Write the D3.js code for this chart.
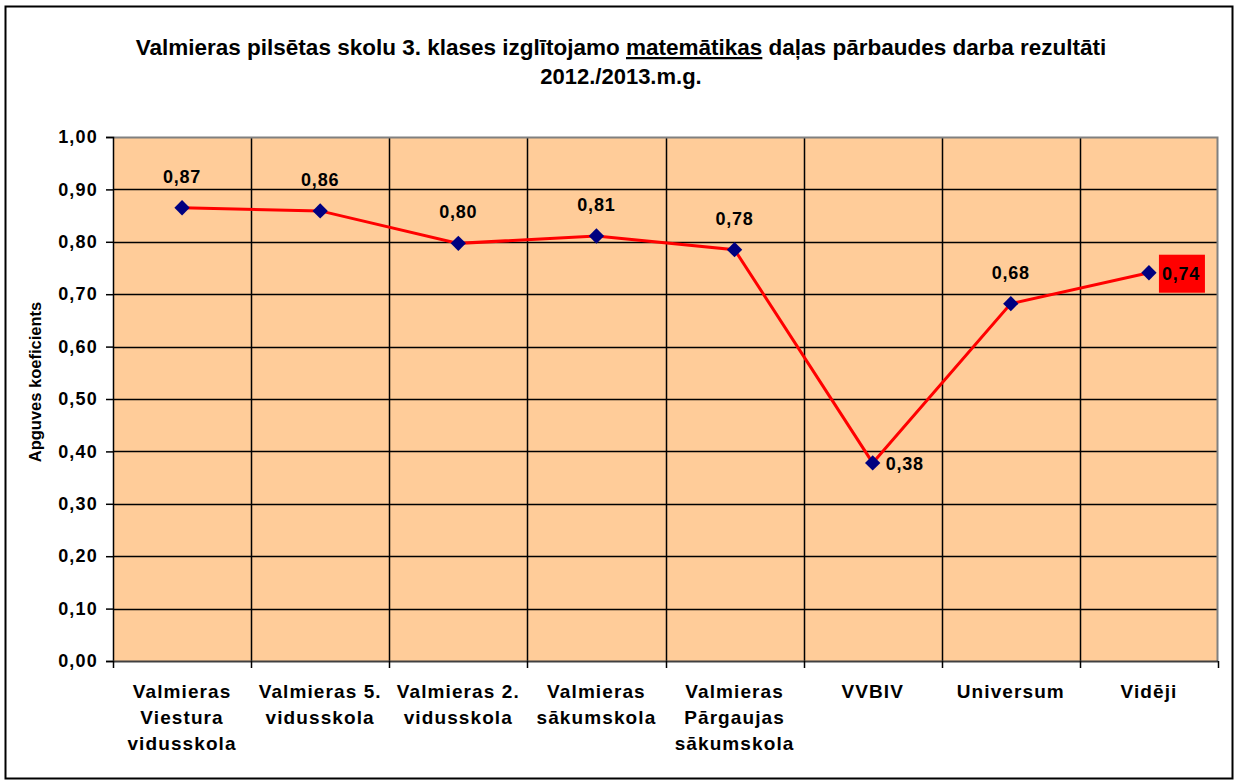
<!DOCTYPE html>
<html>
<head>
<meta charset="utf-8">
<script src="https://cdn.jsdelivr.net/npm/d3@7"></script>
<style>
	body { margin: 0; background: #fff; }
	svg { display: block; font-family: "Liberation Sans", Arial, sans-serif; font-weight: bold; }
</style>
</head>
<body>
<svg id="chart" width="1235" height="781"></svg>
<script>
// data
const schools = [
	["Valmieras", "Viestura", "vidusskola"],
	["Valmieras 5.", "vidusskola"],
	["Valmieras 2.", "vidusskola"],
	["Valmieras", "sākumskola"],
	["Valmieras", "Pārgaujas", "sākumskola"],
	["VVBIV"],
	["Universum"],
	["Vidēji"]
];
const values = [0.865, 0.859, 0.797, 0.811, 0.785, 0.378, 0.682, 0.741];
const valueLabels = ["0,87", "0,86", "0,80", "0,81", "0,78", "0,38", "0,68", "0,74"];
const yTicks = [0, 0.1, 0.2, 0.3, 0.4, 0.5, 0.6, 0.7, 0.8, 0.9, 1.0];

const svg = d3.select("#chart");
const margin = {top: 137, right: 17, bottom: 120, left: 113};
const width = 1235 - margin.left - margin.right;
const plotH = 524;

// outer border
svg.append("rect")
	.attr("x", 5.5).attr("y", 6.5)
	.attr("width", 1227).attr("height", 772)
	.attr("fill", "#fff")
	.attr("stroke", "#000")
	.attr("stroke-width", 2);

// title
const title = svg.append("text")
	.attr("x", 621).attr("y", 55)
	.attr("text-anchor", "middle")
	.style("font-size", "22.5px");
title.append("tspan").text("Valmieras pilsētas skolu 3. klases izglītojamo ");
title.append("tspan").style("text-decoration", "underline").text("matemātikas");
title.append("tspan").text(" daļas pārbaudes darba rezultāti");
svg.append("text")
	.attr("x", 621).attr("y", 84)
	.attr("text-anchor", "middle")
	.style("font-size", "22px")
	.text("2012./2013.m.g.");

const g = svg.append("g")
	.attr("transform", `translate(${margin.left},${margin.top})`);

const x = d3.scaleBand()
	.domain(d3.range(schools.length))
	.range([0, width])
	.padding(0);

const y = d3.scaleLinear()
	.domain([0, 1])
	.range([plotH, 0]);

// plot background
g.append("rect")
	.attr("width", width)
	.attr("height", plotH)
	.attr("fill", "#FFCC99");

// horizontal gridlines
g.selectAll("line.hgrid")
	.data(yTicks.slice(1, -1))
	.enter().append("line")
	.attr("class", "hgrid")
	.attr("x1", 0).attr("x2", width)
	.attr("y1", d => Math.round(y(d)) + 0.5)
	.attr("y2", d => Math.round(y(d)) + 0.5)
	.attr("stroke", "#000")
	.attr("stroke-width", 1.5);

// vertical separators
g.selectAll("line.vgrid")
	.data(d3.range(1, schools.length))
	.enter().append("line")
	.attr("class", "vgrid")
	.attr("x1", d => Math.round(x(d)) + 0.5)
	.attr("x2", d => Math.round(x(d)) + 0.5)
	.attr("y1", 0).attr("y2", plotH)
	.attr("stroke", "#000")
	.attr("stroke-width", 1.5);

// grey top/right frame
g.append("path")
	.attr("d", `M0,0.5H${width - 0.5}V${plotH}`)
	.attr("fill", "none")
	.attr("stroke", "#808080")
	.attr("stroke-width", 2);

// y axis
const yAxis = d3.axisLeft(y)
	.tickValues(yTicks)
	.tickSizeOuter(0)
	.tickSize(7)
	.tickPadding(8)
	.tickFormat(d => d3.format(".2f")(d).replace(".", ","));

const gY = g.append("g").call(yAxis);
gY.select(".domain").attr("stroke", "#000").attr("stroke-width", 1.5);
gY.selectAll(".tick line").attr("stroke", "#000").attr("stroke-width", 1.5);
gY.selectAll(".tick text")
	.attr("fill", "#000")
	.style("font-size", "18px")
	.style("letter-spacing", "1.2px")
	.style("font-family", "Liberation Sans, Arial, sans-serif")
	.style("font-weight", "bold");

// x axis line and ticks at boundaries
g.append("line")
	.attr("x1", 0).attr("x2", width)
	.attr("y1", plotH + 0.5).attr("y2", plotH + 0.5)
	.attr("stroke", "#404040")
	.attr("stroke-width", 2);

g.selectAll("line.xtick")
	.data(d3.range(0, schools.length + 1))
	.enter().append("line")
	.attr("class", "xtick")
	.attr("x1", d => Math.round(d * x.bandwidth()) + 0.5)
	.attr("x2", d => Math.round(d * x.bandwidth()) + 0.5)
	.attr("y1", plotH).attr("y2", plotH + 7)
	.attr("stroke", "#000")
	.attr("stroke-width", 1.5);

// category labels
g.selectAll("text.cat")
	.data(schools)
	.enter().append("text")
	.attr("class", "cat")
	.attr("text-anchor", "middle")
	.style("font-size", "19px")
	.style("letter-spacing", "1.1px")
	.each(function(lines, i) {
		const t = d3.select(this);
		lines.forEach((l, j) => {
			t.append("tspan")
				.attr("x", x(i) + x.bandwidth() / 2)
				.attr("y", plotH + 37 + j * 26)
				.text(l);
		});
	});

// y axis title
svg.append("text")
	.attr("transform", "translate(41,382) rotate(-90)")
	.attr("text-anchor", "middle")
	.style("font-size", "16.5px")
	.text("Apguves koeficients");

// line
const cx = i => x(i) + x.bandwidth() / 2;
const line = d3.line()
	.x((d, i) => cx(i))
	.y(d => y(d));

g.append("path")
	.datum(values)
	.attr("d", line)
	.attr("fill", "none")
	.attr("stroke", "#FF0000")
	.attr("stroke-width", 3);

// markers
const sym = d3.symbol().type(d3.symbolDiamond2).size(150);
g.selectAll("path.dot")
	.data(values)
	.enter().append("path")
	.attr("class", "dot")
	.attr("d", sym)
	.attr("transform", (d, i) => `translate(${cx(i)},${y(d)})`)
	.attr("fill", "#000080");

// value labels
const lastIdx = values.length - 1;
const lowIdx = values.indexOf(d3.min(values));

values.forEach((v, i) => {
	let tx = cx(i), ty = y(v) - 25, anchor = "middle";
	if (i === lowIdx || i === lastIdx) {
		tx = cx(i) + 13;
		ty = y(v) + 7;
		anchor = "start";
	}
	if (i === lastIdx) {
		g.append("rect")
			.attr("x", tx - 3)
			.attr("y", y(v) - 18)
			.attr("width", 46)
			.attr("height", 38)
			.attr("fill", "#FF0000");
	}
	g.append("text")
		.attr("x", tx)
		.attr("y", ty)
		.attr("text-anchor", anchor)
		.style("font-size", "18px")
		.style("letter-spacing", "0.8px")
		.text(valueLabels[i]);
});
</script>
</body>
</html>
